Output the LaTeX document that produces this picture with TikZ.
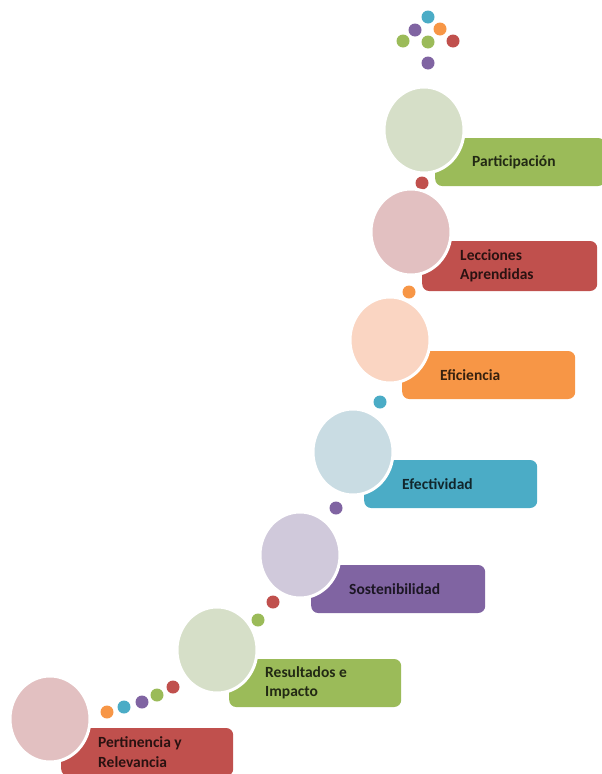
\documentclass[tikz,border=0pt]{standalone}
\usepackage{fontspec}
\setmainfont{Carlito}
\usetikzlibrary{shapes.geometric,positioning}

\definecolor{grn}{HTML}{9BBB59}
\definecolor{rd}{HTML}{C0504D}
\definecolor{org}{HTML}{F79646}
\definecolor{blu}{HTML}{4BACC6}
\definecolor{pur}{HTML}{8064A2}
\definecolor{grnlt}{HTML}{D6DFC8}
\definecolor{rdlt}{HTML}{E2C0C1}
\definecolor{orglt}{HTML}{FAD5C2}
\definecolor{blult}{HTML}{C9DCE3}
\definecolor{purlt}{HTML}{D0C9DB}

\begin{document}
\begin{tikzpicture}[x=1pt,y=-1pt,
  bar/.style={rectangle, rounded corners=7pt, minimum height=48pt, anchor=west, inner sep=0pt, fill=#1},
  disc/.style={ellipse, minimum width=80pt, minimum height=86pt, draw=white, line width=3pt, fill=#1},
  dot/.style={circle, minimum size=13pt, inner sep=0pt, fill=#1},
  txt/.style={font=\bfseries\fontsize{15.5}{19.5}\selectfont, text=#1!22!black, align=left, inner sep=0pt}]
\useasboundingbox (0,0) rectangle (602,774);

% dots
\node[dot=blu] (t1) at (428,17) {};
\node[dot=pur] (t2) at (415,30) {};
\node[dot=org] (t3) at (440,29) {};
\node[dot=grn] (t4) at (403,41) {};
\node[dot=grn] (t5) at (428,42) {};
\node[dot=rd]  (t6) at (453,41) {};
\node[dot=pur] (t7) at (428,63) {};

\node[dot=rd]  (d1) at (422,183) {};
\node[dot=org] (d2) at (409,292) {};
\node[dot=blu] (d3) at (380,402) {};
\node[dot=pur] (d4) at (336,508) {};
\node[dot=rd]  (d5) at (273,602) {};
\node[dot=grn] (d6) at (258,620) {};
\node[dot=rd]  (d7) at (173,687) {};
\node[dot=grn] (d8) at (157,695) {};
\node[dot=pur] (d9) at (142,702) {};
\node[dot=blu] (d10) at (124,707) {};
\node[dot=org] (d11) at (107,712) {};

% bars
\node[bar=grn, minimum width=170pt] (b1) at (435,162) {};
\node[bar=rd,  minimum width=175pt, minimum height=50pt] (b2) at (422,266) {};
\node[bar=org, minimum width=173pt] (b3) at (402,375) {};
\node[bar=blu, minimum width=173pt] (b4) at (364,484) {};
\node[bar=pur, minimum width=174pt] (b5) at (311,589) {};
\node[bar=grn, minimum width=172pt] (b6) at (229,683) {};
\node[bar=rd,  minimum width=172pt] (b7) at (61,752) {};

% circles
\node[disc=grnlt] (c1) at (424,130) {};
\node[disc=rdlt]  (c2) at (411,232) {};
\node[disc=orglt] (c3) at (390,340) {};
\node[disc=blult] (c4) at (353,452) {};
\node[disc=purlt] (c5) at (300,555) {};
\node[disc=grnlt] (c6) at (217,650) {};
\node[disc=rdlt]  (c7) at (50,719) {};

% labels
\node[txt=grn, right=37pt of b1.west] (l1) {Participación};
\node[txt=rd,  right=38pt of b2.west] (l2) {Lecciones\\Aprendidas};
\node[txt=org, right=38pt of b3.west] (l3) {Eficiencia};
\node[txt=blu, right=38pt of b4.west] (l4) {Efectividad};
\node[txt=pur, right=38pt of b5.west] (l5) {Sostenibilidad};
\node[txt=grn, right=36pt of b6.west] (l6) {Resultados e\\Impacto};
\node[txt=rd,  right=37pt of b7.west] (l7) {Pertinencia y\\Relevancia};
\end{tikzpicture}
\end{document}
